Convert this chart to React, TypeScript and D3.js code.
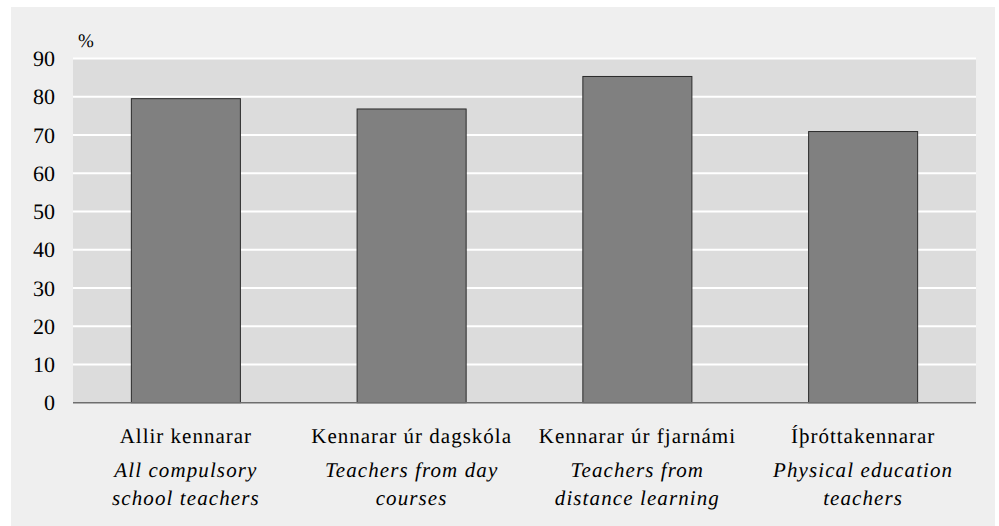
import React from "react";
import * as d3 from "d3";

const categories = ["Allir kennarar", "Kennarar úr dagskóla", "Kennarar úr fjarnámi", "Íþróttakennarar"];
const subLabels: string[][] = [
  ["All compulsory", "school teachers"],
  ["Teachers from day", "courses"],
  ["Teachers from", "distance learning"],
  ["Physical education", "teachers"],
];
const values = [79.5, 76.8, 85.3, 70.9];
const yTicks = [0, 10, 20, 30, 40, 50, 60, 70, 80, 90];

const W = 999;
const H = 526;
const FONT = "Liberation Serif";

export default function App() {
  const plotL = 73, plotR = 976, plotT = 58.5, plotB = 402.7;
  const x = d3.scaleBand<string>().domain(categories).range([plotL, plotR]).paddingInner(0.517).paddingOuter(0.2585);
  const y = d3.scaleLinear().domain([0, 90]).range([plotB, plotT]);

  return (
    <svg width={W} height={H} textRendering="geometricPrecision" style={{ position: "absolute", left: 0, top: 0 }}>
      <rect x={11} y={7} width={984} height={H - 7} fill="#efefef" />
      <rect x={plotL} y={plotT} width={plotR - plotL} height={plotB - plotT} fill="#dcdcdc" />
      {yTicks.filter(t => t > 0).map(t => (
        <line key={t} x1={plotL} x2={plotR} y1={y(t)} y2={y(t)} stroke="#ffffff" strokeWidth={2} />
      ))}
      {yTicks.map(t => (
        <text key={t} x={55} y={y(t)} dy="0.35em" textAnchor="end" fontFamily={FONT} fontSize={22} fill="#000">
          {t}
        </text>
      ))}
      <text x={78} y={47} fontFamily={FONT} fontSize={19} fill="#000">%</text>
      {categories.map((c, i) => (
        <rect key={c} x={x(c)} y={y(values[i])} width={x.bandwidth()} height={plotB - y(values[i])}
          fill="#808080" stroke="#2a2a2a" strokeWidth={1} />
      ))}
      <line x1={plotL} x2={plotR} y1={plotB} y2={plotB} stroke="#6e6e6e" strokeWidth={1.5} />
      {categories.map((c, i) => {
        const cx = (x(c) as number) + x.bandwidth() / 2;
        return (
          <g key={c}>
            <text x={cx} y={443} textAnchor="middle" fontFamily={FONT} fontSize={21} letterSpacing={1} fill="#000">{c}</text>
            {subLabels[i].map((s, j) => (
              <text key={j} x={cx} y={477 + j * 28} textAnchor="middle" fontFamily={FONT} fontSize={21} fontStyle="italic" letterSpacing={1.1} fill="#000">{s}</text>
            ))}
          </g>
        );
      })}
    </svg>
  );
}
